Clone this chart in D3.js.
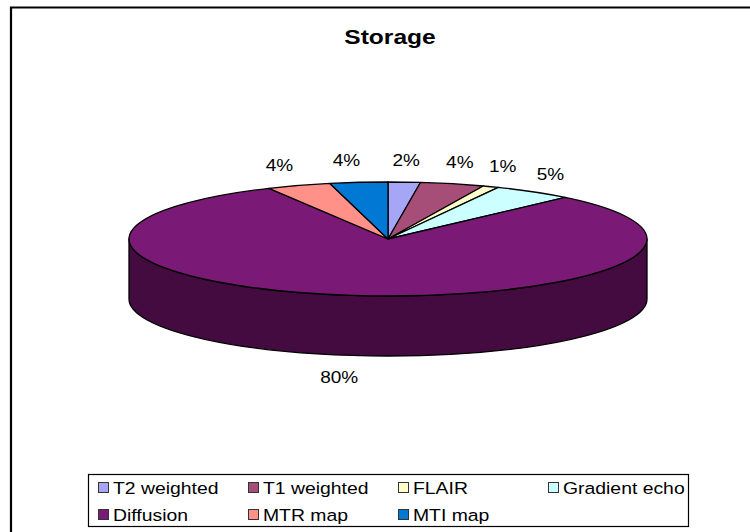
<!DOCTYPE html>
<html><head><meta charset="utf-8">
<script src="https://cdn.jsdelivr.net/npm/d3@7"></script>
<style>body{margin:0;background:#fff}svg{display:block}</style>
</head><body><svg id="c" width="750" height="532"></svg>
<script>
const categories = ["T2 weighted","T1 weighted","FLAIR","Gradient echo","Diffusion","MTR map","MTI map"];
const values = [2, 4, 1, 5, 80.4, 4, 3.6];
const topColors = ["#A6A6F7","#A64D78","#FFFFCC","#CCFFFF","#7A1A76","#FF9189","#0078D4"];
const sideColors = ["#5A5A9E","#5E2A44","#9E9E7E","#7E9E9E","#430B40","#9E5A55","#004A80"];
const legendOrder = [0,1,2,3,4,5,6];

const svg = d3.select("#c");
const cx = 388, cy = 239, rx = 259, ry = 57, depth = 60;
const font = "Liberation Sans, Arial, sans-serif";

// outer frame
svg.append("path").attr("d","M11,545 L11,7.5 L760,7.5").attr("fill","none").attr("stroke","#000").attr("stroke-width",2.2);

svg.append("text").attr("x",390).attr("y",44).attr("text-anchor","middle")
  .attr("font-family",font).attr("font-weight","bold").attr("font-size",21)
  .attr("transform","translate(390,0) scale(1.17,1) translate(-390,0)")
  .text("Storage");

const total = d3.sum(values);
const pie = d3.pie().sort(null).startAngle(0).endAngle(2*Math.PI)(values);
const px = a => cx + rx*Math.sin(a);
const py = a => cy - ry*Math.cos(a);

const g = svg.append("g").attr("stroke","#000").attr("stroke-width",1.3).attr("stroke-linejoin","round");

// side walls (front half)
pie.forEach((d,i)=>{
  const b0 = Math.max(d.startAngle, Math.PI/2), b1 = Math.min(d.endAngle, 3*Math.PI/2);
  if (b1 <= b0) return;
  const large = (b1-b0) > Math.PI ? 1 : 0;
  const p = `M${px(b0)},${py(b0)} A${rx},${ry} 0 ${large} 1 ${px(b1)},${py(b1)} L${px(b1)},${py(b1)+depth} A${rx},${ry} 0 ${large} 0 ${px(b0)},${py(b0)+depth} Z`;
  g.append("path").attr("d",p).attr("fill",sideColors[i]);
});

// top faces
pie.forEach((d,i)=>{
  const a0 = d.startAngle, a1 = d.endAngle;
  const large = (a1-a0) > Math.PI ? 1 : 0;
  const p = `M${cx},${cy} L${px(a0)},${py(a0)} A${rx},${ry} 0 ${large} 1 ${px(a1)},${py(a1)} Z`;
  g.append("path").attr("d",p).attr("fill",topColors[i]);
});

// labels
const lab = svg.append("g").attr("font-family",font).attr("font-size",17).attr("fill","#000");
pie.forEach((d,i)=>{
  const m = (d.startAngle+d.endAngle)/2;
  const s = Math.sin(m), c = Math.cos(m);
  let x = cx + (rx+30)*s;
  let y = cy - (ry+22)*c + (c < 0 ? depth : 0);
  if (s < 0) x -= 9;
  lab.append("text").attr("x",x).attr("y",y).attr("dy","0.35em").attr("text-anchor","middle")
    .attr("transform",`translate(${x},0) scale(1.12,1) translate(${-x},0)`)
    .text(Math.round(values[i]/total*100)+"%");
});

// legend
const lg = svg.append("g");
lg.append("rect").attr("x",88.5).attr("y",474.5).attr("width",600).attr("height",52)
  .attr("fill","#fff").attr("stroke","#000").attr("stroke-width",1.2);
legendOrder.forEach((k,j)=>{
  const col = j%4, row = Math.floor(j/4);
  const x = 98 + col*150, y = 488 + row*27;
  lg.append("rect").attr("x",x+0.5).attr("y",y-5.5).attr("width",10).attr("height",10)
    .attr("fill",topColors[k]).attr("stroke","#333").attr("stroke-width",1);
  lg.append("text").attr("x",x+15).attr("y",y).attr("dy","0.35em")
    .attr("font-family",font).attr("font-size",17)
    .attr("transform",`translate(${x+15},0) scale(1.14,1) translate(${-(x+15)},0)`)
    .text(categories[k]);
});
</script></body></html>
